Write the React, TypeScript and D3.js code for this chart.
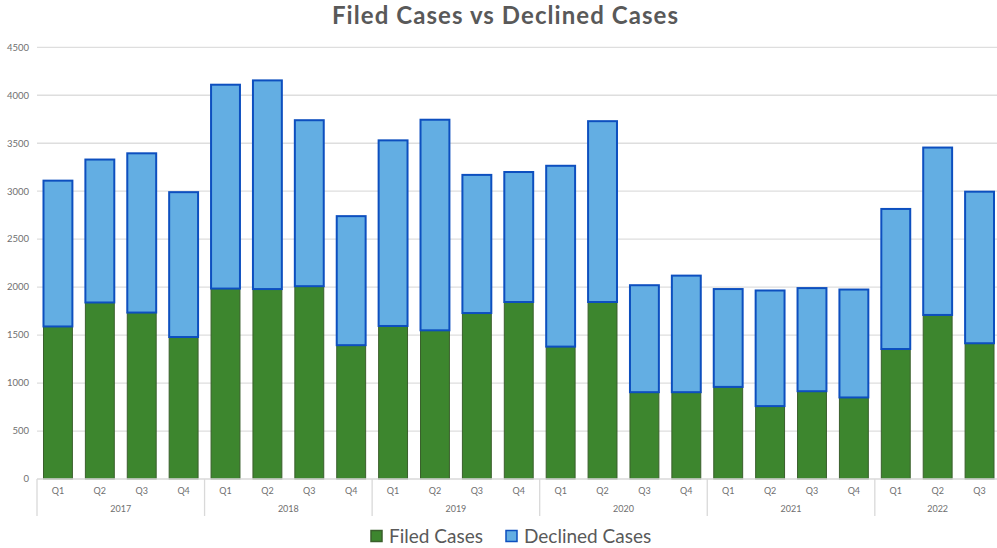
import { FC } from "react";
import * as d3 from "d3";

const WIDTH = 997;
const HEIGHT = 548;

const years = ["2017", "2018", "2019", "2020", "2021", "2022"];
const periods = [
  "2017 Q1", "2017 Q2", "2017 Q3", "2017 Q4",
  "2018 Q1", "2018 Q2", "2018 Q3", "2018 Q4",
  "2019 Q1", "2019 Q2", "2019 Q3", "2019 Q4",
  "2020 Q1", "2020 Q2", "2020 Q3", "2020 Q4",
  "2021 Q1", "2021 Q2", "2021 Q3", "2021 Q4",
  "2022 Q1", "2022 Q2", "2022 Q3",
];
const filedCases = [
  1590, 1840, 1735, 1480, 1985, 1980, 2010, 1395, 1595, 1550, 1730, 1845,
  1380, 1845, 905, 905, 960, 760, 915, 850, 1355, 1710, 1415,
];
const declinedCases = [
  1520, 1490, 1660, 1510, 2125, 2175, 1730, 1345, 1935, 2195, 1440, 1355,
  1885, 1885, 1115, 1215, 1020, 1205, 1075, 1125, 1460, 1745, 1580,
];
const yTicks = [0, 500, 1000, 1500, 2000, 2500, 3000, 3500, 4000, 4500];

const seriesNames = ["Filed Cases", "Declined Cases"];
const fills = ["#3d862e", "#63aee3"];
const strokes = ["#3a5f2c", "#0d4fbf"];

const FONT = "Lato, 'Open Sans', sans-serif";

interface Row {
  period: string;
  filed: number;
  declined: number;
}

const rows: Row[] = periods.map((p, i) => ({
  period: p,
  filed: filedCases[i],
  declined: declinedCases[i],
}));

const App: FC = () => {
  const x = d3
    .scaleBand<string>()
    .domain(periods)
    .range([37, 1000.5])
    .paddingInner(0.31)
    .paddingOuter(0.155);
  const y = d3.scaleLinear().domain([0, 4500]).range([479, 47.3]);

  const stacked = d3.stack<Row>().keys(["filed", "declined"])(rows);
  const step = x.step();
  const edge = (p: string) => x(p)! - (step - x.bandwidth()) / 2;

  return (
    <svg
      width={WIDTH}
      height={HEIGHT}
      style={{ position: "absolute", left: 0, top: 0, background: "#fff" }}
    >
      <text
        x={505}
        y={24}
        textAnchor="middle"
        fontFamily={FONT}
        fontWeight="bold"
        fontSize={24}
        fill="#595959"
        textLength={346}
        lengthAdjust="spacing"
      >
        Filed Cases vs Declined Cases
      </text>

      {/* grid + y labels */}
      {yTicks.map((t) => (
        <g key={t}>
          {t > 0 && (
            <line x1={37} x2={WIDTH} y1={y(t)} y2={y(t)} stroke="#dedede" strokeWidth={1.3} />
          )}
          <text
            x={29}
            y={y(t) + 3.3}
            textAnchor="end"
            fontFamily={FONT}
            fontSize={9.5}
            fill="#6f6f6f"
          >
            {t}
          </text>
        </g>
      ))}

      {/* bars */}
      {stacked.map((layer, si) =>
        layer.map((d) => (
          <rect
            key={si + d.data.period}
            x={x(d.data.period)}
            y={y(d[1])}
            width={x.bandwidth()}
            height={y(d[0]) - y(d[1])}
            fill={fills[si]}
            stroke={strokes[si]}
            strokeWidth={si === 1 ? 2 : 1}
          />
        ))
      )}

      {/* category axis */}
      <line x1={37} x2={WIDTH} y1={y(0)} y2={y(0)} stroke="#d9d9d9" strokeWidth={1.3} />
      {periods.map((p) => (
        <text
          key={p}
          x={x(p)! + x.bandwidth() / 2}
          y={494}
          textAnchor="middle"
          fontFamily={FONT}
          fontSize={9}
          fill="#6f6f6f"
        >
          {p.split(" ")[1]}
        </text>
      ))}
      {years.map((yr) => {
        const inYear = periods.filter((p) => p.startsWith(yr));
        const x0 = edge(inYear[0]);
        const x1 = edge(inYear[inYear.length - 1]) + step;
        return (
          <g key={yr}>
            <line x1={x0} x2={x0} y1={y(0)} y2={516} stroke="#d9d9d9" strokeWidth={1.3} />
            <text
              x={(x0 + x1) / 2}
              y={512}
              textAnchor="middle"
              fontFamily={FONT}
              fontSize={9}
              fill="#6f6f6f"
            >
              {yr}
            </text>
          </g>
        );
      })}

      {/* legend */}
      {seriesNames.map((name, i) => {
        const lx = i === 0 ? 371 : 506;
        return (
          <g key={name}>
            <rect
              x={lx}
              y={530.5}
              width={11}
              height={11}
              fill={fills[i]}
              stroke={strokes[i]}
              strokeWidth={1.5}
            />
            <text x={lx + 18} y={542.5} fontFamily={FONT} fontSize={19} fill="#595959">
              {name}
            </text>
          </g>
        );
      })}
    </svg>
  );
};

export default App;
